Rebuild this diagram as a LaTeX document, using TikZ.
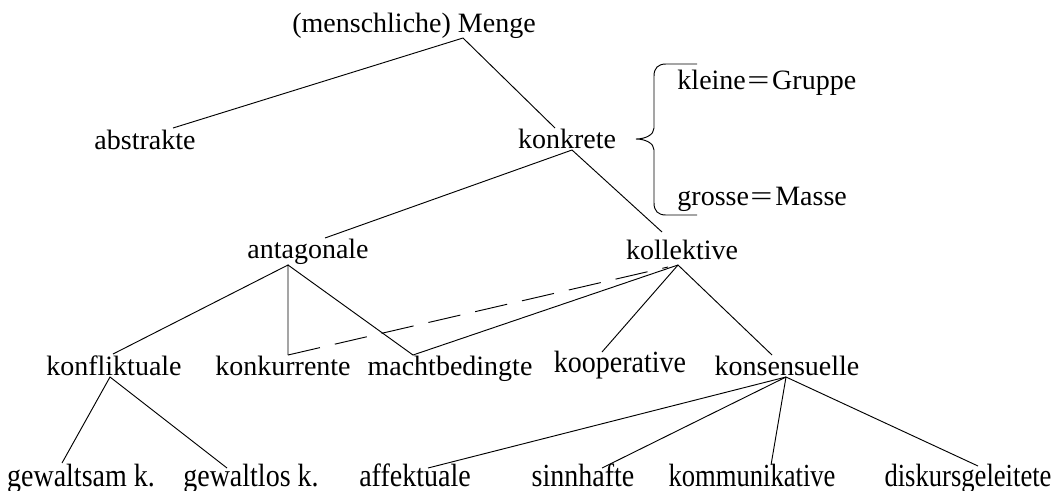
\documentclass[tikz,border=0pt]{standalone}
\usepackage{fontspec}
\usepackage{graphicx}
\setmainfont{Liberation Serif}

\begin{document}
\begin{tikzpicture}[x=0.015cm, y=-0.015cm,
    term/.style={anchor=base, inner sep=0pt, font=\fontsize{11.95}{14}\selectfont},
    link/.style={thin, black},
    dashlink/.style={thin, black, dash pattern=on 14pt off 6.5pt}
  ]
  \useasboundingbox (0,0) rectangle (1063,490);

  \node[term] (menge) at (414,32) {(menschliche) Menge};
  \node[term] (abstrakte) at (145,149) {abstrakte};
  \node[term] (konkrete) at (567,148) {konkrete};
  \node[term, anchor=base west] (kleine) at (677,89) {kleine\hspace{0.05em}\scalebox{1.4}[1]{=}\hspace{0.1em}Gruppe};
  \node[term, anchor=base west] (grosse) at (677,205) {grosse\hspace{0.05em}\scalebox{1.4}[1]{=}\hspace{0.1em}Masse};
  \node[term] (antagonale) at (308,258) {antagonale};
  \node[term] (kollektive) at (682,259) {kollektive};
  \node[term] (konfliktuale) at (114,375) {konfliktuale};
  \node[term] (konkurrente) at (283,375) {konkurrente};
  \node[term] (machtbedingte) at (450,375) {machtbedingte};
  \node[term] (kooperative) at (620,372) {\scalebox{1}[1.1]{kooperative}};
  \node[term] (konsensuelle) at (787,375) {konsensuelle};
  \node[term] (gewaltsam) at (81,486) {\scalebox{1}[1.15]{gewaltsam k.}};
  \node[term] (gewaltlos) at (251,486) {\scalebox{1}[1.15]{gewaltlos k.}};
  \node[term] (affektuale) at (415,486) {\scalebox{1}[1.15]{affektuale}};
  \node[term] (sinnhafte) at (583,486) {\scalebox{1}[1.15]{sinnhafte}};
  \node[term] (kommunikative) at (752,486) {\scalebox{0.95}[1.15]{kommunikative}};
  \node[term] (diskurs) at (968,486) {\scalebox{0.95}[1.15]{diskursgeleitete}};

  \coordinate (menge-j) at (463,38);
  \coordinate (abstrakte-t) at (173,128);
  \coordinate (konkrete-t) at (555,128);
  \coordinate (konkrete-j) at (572,150);
  \coordinate (antagonale-t) at (325,238);
  \coordinate (kollektive-t) at (662,232);
  \coordinate (antagonale-j) at (288,265);
  \coordinate (kollektive-j) at (678,265);
  \coordinate (konfliktuale-t) at (113,354);
  \coordinate (konkurrente-t) at (288,355);
  \coordinate (machtbedingte-t) at (413,355);
  \coordinate (kooperative-t) at (602,352);
  \coordinate (konsensuelle-t) at (772,355);
  \coordinate (konfliktuale-j) at (110,377);
  \coordinate (konsensuelle-j) at (786,377);
  \coordinate (gewaltsam-t) at (62,463);
  \coordinate (gewaltlos-t) at (227,468);
  \coordinate (affektuale-t) at (428,468);
  \coordinate (sinnhafte-t) at (602,468);
  \coordinate (kommunikative-t) at (771,465);
  \coordinate (diskurs-t) at (978,466);
  \coordinate (dash-end) at (668,267);

  \draw[link] (abstrakte-t) -- (menge-j) -- (konkrete-t);
  \draw[link] (antagonale-t) -- (konkrete-j) -- (kollektive-t);
  \draw[link] (konfliktuale-t) -- (antagonale-j) -- (konkurrente-t);
  \draw[link] (antagonale-j) -- (machtbedingte-t) -- (kollektive-j);
  \draw[link] (kooperative-t) -- (kollektive-j) -- (konsensuelle-t);
  \draw[dashlink] (konkurrente-t) -- (dash-end);
  \draw[link] (gewaltsam-t) -- (konfliktuale-j) -- (gewaltlos-t);
  \draw[link] (konsensuelle-j) -- (affektuale-t);
  \draw[link] (konsensuelle-j) -- (sinnhafte-t);
  \draw[link] (konsensuelle-j) -- (kommunikative-t);
  \draw[link] (konsensuelle-j) -- (diskurs-t);

  \draw[link] (697,64) -- (666,64) .. controls (658,64) and (654,68) .. (654,76) -- (654,128)
    .. controls (654,135) and (645,139) .. (636,139) .. controls (645,139) and (654,143) .. (654,150)
    -- (654,203) .. controls (654,211) and (658,215) .. (666,215) -- (697,215);
\end{tikzpicture}
\end{document}
